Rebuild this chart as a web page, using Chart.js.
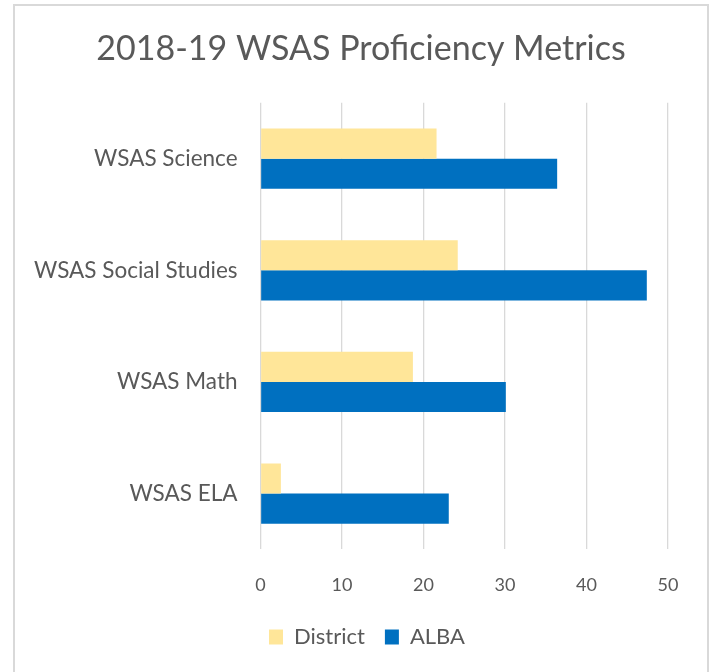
<!DOCTYPE html>
<html>
<head>
<meta charset="utf-8">
<script src="https://cdn.jsdelivr.net/npm/chart.js@4/dist/chart.umd.min.js"></script>
<style>
  html, body { margin: 0; padding: 0; background: #fff; overflow: hidden; }
  #box { position: absolute; left: 13px; top: 4px; width: 692px; height: 680px; border: 2px solid #D9D9D9; background: #fff; }
  #wrap { position: absolute; left: 0; top: 0; width: 692px; height: 680px; }
</style>
</head>
<body>
<div id="box"><div id="wrap"><canvas id="c"></canvas></div></div>
<script>
const categories = ["WSAS Science", "WSAS Social Studies", "WSAS Math", "WSAS ELA"];
const districtValues = [21.6, 24.2, 18.7, 2.5];
const albaValues = [36.4, 47.4, 30.1, 23.1];
const seriesNames = ["District", "ALBA"];
const xTicks = [0, 10, 20, 30, 40, 50];
const chartTitle = "2018-19 WSAS Proficiency Metrics";

const FONT = "Lato, 'Open Sans', sans-serif";
const GRAY = "#595959";

// Center the title and legend over the whole canvas (not just the padded box)
const recenterPlugin = {
  id: "recenter",
  afterLayout(chart) {
    if (chart.titleBlock) { chart.titleBlock.left = 0; chart.titleBlock.right = chart.width; }
    if (chart.legend) { chart.legend.left = 6; chart.legend.right = chart.width + 6; }
  }
};

function draw() {
  new Chart(document.getElementById("c"), {
    type: "bar",
    data: {
      labels: categories,
      datasets: [
        { label: seriesNames[0], data: districtValues, backgroundColor: "#FFE699", borderWidth: 0,
          barPercentage: 1.0, categoryPercentage: 0.54 },
        { label: seriesNames[1], data: albaValues, backgroundColor: "#0070C0", borderWidth: 0,
          barPercentage: 1.0, categoryPercentage: 0.54 }
      ]
    },
    plugins: [recenterPlugin],
    options: {
      indexAxis: "y",
      responsive: true,
      maintainAspectRatio: false,
      animation: false,
      layout: { padding: { left: 17, right: 39, top: 0, bottom: 28 } },
      plugins: {
        title: {
          display: true, text: chartTitle, color: GRAY,
          font: { family: FONT, size: 34, weight: "normal" },
          padding: { top: 23, bottom: 33 }
        },
        legend: {
          position: "bottom",
          labels: {
            color: GRAY, font: { family: FONT, size: 22 },
            boxWidth: 14, boxHeight: 15, padding: 20
          }
        },
        tooltip: { enabled: false }
      },
      scales: {
        x: {
          min: 0, max: 50,
          afterBuildTicks: (axis) => { axis.ticks = xTicks.map(v => ({ value: v })); },
          afterFit: (axis) => { axis.height -= 15; },
          grid: { color: "#D9D9D9", lineWidth: 1.3, drawTicks: false },
          border: { display: false },
          ticks: { color: GRAY, font: { family: FONT, size: 18 }, padding: 25 }
        },
        y: {
          afterFit: (axis) => { axis.width -= 21; },
          grid: { display: false, drawTicks: false },
          border: { display: false },
          ticks: { color: GRAY, font: { family: FONT, size: 22.5 }, padding: 23 }
        }
      }
    }
  });
}

Promise.all([
  document.fonts.load("normal 34px Lato"),
  document.fonts.load("normal 22px Lato"),
  document.fonts.load("normal 18px Lato")
]).then(draw, draw);
</script>
</body>
</html>
